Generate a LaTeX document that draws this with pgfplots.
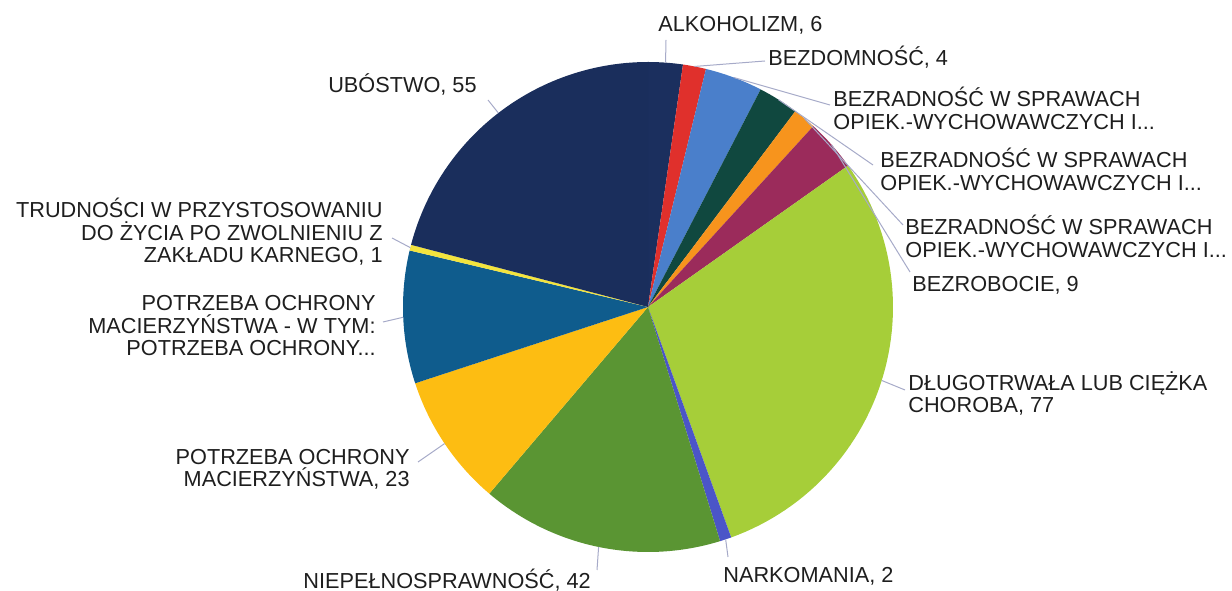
\documentclass[border=0pt]{standalone}
\usepackage{fontspec}
\setmainfont{Liberation Sans}
\usepackage{pgfplots}
\usepackage{pgfplotstable}
\pgfplotsset{compat=1.18}

\definecolor{cNavyA}{HTML}{1B2F5E}
\definecolor{cRed}{HTML}{E0302C}
\definecolor{cBlue}{HTML}{4A7FCB}
\definecolor{cDkGreen}{HTML}{10483F}
\definecolor{cOrange}{HTML}{F7941D}
\definecolor{cMaroon}{HTML}{9B2B5B}
\definecolor{cLime}{HTML}{A6CE39}
\definecolor{cViolet}{HTML}{4B55C8}
\definecolor{cGreen}{HTML}{5A9533}
\definecolor{cGold}{HTML}{FDBD12}
\definecolor{cTeal}{HTML}{0F5C8D}
\definecolor{cYellow}{HTML}{F3E43E}
\definecolor{cNavy}{HTML}{1A2E5C}
\definecolor{cLeader}{HTML}{A6AAC8}
\definecolor{cText}{HTML}{1E1E1E}

% slices clockwise from 12 o'clock
\pgfplotstableread{
value colour
6  cNavyA
4  cRed
10 cBlue
7  cDkGreen
4  cOrange
9  cMaroon
77 cLime
2  cViolet
42 cGreen
23 cGold
23 cTeal
1  cYellow
55 cNavy
}\piedata

\pgfplotstablegetrowsof{\piedata}
\pgfmathtruncatemacro\nlast{\pgfplotsretval-1}

\xdef\pietotal{0}
\foreach \i in {0,...,\nlast}{%
  \pgfplotstablegetelem{\i}{value}\of\piedata
  \pgfmathsetmacro\tmp{\pietotal+\pgfplotsretval}%
  \xdef\pietotal{\tmp}%
}
\xdef\cum{0}
\foreach \i in {0,...,\nlast}{%
  \pgfplotstablegetelem{\i}{value}\of\piedata
  \pgfmathsetmacro\c{\cum+\pgfplotsretval}%
  \pgfmathsetmacro\a{360*(\cum/\pietotal)}%
  \pgfmathsetmacro\b{360*(\c/\pietotal)}%
  \pgfmathsetmacro\m{(\a+\b)/2}%
  \expandafter\xdef\csname pa\i\endcsname{\a}%
  \expandafter\xdef\csname pb\i\endcsname{\b}%
  \expandafter\xdef\csname pm\i\endcsname{\m}%
  \pgfplotstablegetelem{\i}{colour}\of\piedata
  \expandafter\xdef\csname pc\i\endcsname{\pgfplotsretval}%
  \xdef\cum{\c}%
}

% pie centre and radius in pixel units
\def\cx{648}
\def\cy{284}
\def\rr{245}
\newcommand\rimx[1]{\cx+\rr*sin(\csname pm#1\endcsname)}
\newcommand\rimy[1]{\cy+\rr*cos(\csname pm#1\endcsname)}

\begin{document}
\begin{tikzpicture}[
  lbl/.style={font=\fontsize{10.85bp}{11.25bp}\selectfont, text=cText, inner sep=0pt},
  leader/.style={draw=cLeader, line width=0.5bp},
]
\begin{axis}[
  width=616bp, height=295.5bp, scale only axis,
  xmin=0, xmax=1232, ymin=0, ymax=591,
  hide axis, clip=false,
]
\path (rel axis cs:0,0) rectangle (rel axis cs:1,1);

\pgfplotsforeachungrouped \i in {0,...,\nlast}{%
  \edef\slice{\noexpand\addplot[fill=\csname pc\i\endcsname, draw=none,
      domain=\csname pa\i\endcsname:\csname pb\i\endcsname, samples=60]
    ({\cx+\rr*sin(x)},{\cy+\rr*cos(x)}) -- (axis cs:\cx,\cy) -- cycle;}%
  \slice
}

% leader lines
\draw[leader] (axis cs:{\rimx{0}},{\rimy{0}}) -- (axis cs:666,551);
\draw[leader] (axis cs:{\rimx{1}},{\rimy{1}}) -- (axis cs:765,530);
\draw[leader] (axis cs:{\rimx{2}},{\rimy{2}}) -- (axis cs:830,486);
\draw[leader] (axis cs:{\rimx{3}},{\rimy{3}}) -- (axis cs:873,426);
\draw[leader] (axis cs:{\rimx{4}},{\rimy{4}}) -- (axis cs:903,366);
\draw[leader] (axis cs:{\rimx{5}},{\rimy{5}}) -- (axis cs:910,319);
\draw[leader] (axis cs:{\rimx{6}},{\rimy{6}}) -- (axis cs:905,201);
\draw[leader] (axis cs:{\rimx{7}},{\rimy{7}}) -- (axis cs:728,34);
\draw[leader] (axis cs:{\rimx{8}},{\rimy{8}}) -- (axis cs:597,21);
\draw[leader] (axis cs:{\rimx{9}},{\rimy{9}}) -- (axis cs:418,129);
\draw[leader] (axis cs:{\rimx{10}},{\rimy{10}}) -- (axis cs:383,269);
\draw[leader] (axis cs:{\rimx{11}},{\rimy{11}}) -- (axis cs:392,353);
\draw[leader] (axis cs:{\rimx{12}},{\rimy{12}}) -- (axis cs:488,491);

% labels (multi-line nodes: base = last line)
\node[lbl, anchor=base west] at (axis cs:658,559) {ALKOHOLIZM, 6};
\node[lbl, anchor=base west] at (axis cs:768,525) {BEZDOMNOŚĆ, 4};
\node[lbl, anchor=base west, align=left] at (axis cs:833,461.5) {BEZRADNOŚĆ W SPRAWACH\\OPIEK.-WYCHOWAWCZYCH I...};
\node[lbl, anchor=base west, align=left] at (axis cs:880,400.5) {BEZRADNOŚĆ W SPRAWACH\\OPIEK.-WYCHOWAWCZYCH I...};
\node[lbl, anchor=base west, align=left] at (axis cs:905,333.5) {BEZRADNOŚĆ W SPRAWACH\\OPIEK.-WYCHOWAWCZYCH I...};
\node[lbl, anchor=base west] at (axis cs:912,299) {BEZROBOCIE, 9};
\node[lbl, anchor=base west, align=left] at (axis cs:908,178) {DŁUGOTRWAŁA LUB CIĘŻKA\\CHOROBA, 77};
\node[lbl, anchor=base west] at (axis cs:723,9) {NARKOMANIA, 2};
\node[lbl, anchor=base west] at (axis cs:303,3) {NIEPEŁNOSPRAWNOŚĆ, 42};
\node[lbl, anchor=base east, align=right] at (axis cs:410,104) {POTRZEBA OCHRONY\\MACIERZYŃSTWA, 23};
\node[lbl, anchor=base east, align=right] at (axis cs:376,235) {POTRZEBA OCHRONY\\MACIERZYŃSTWA - W TYM:\\POTRZEBA OCHRONY...};
\node[lbl, anchor=base east, align=right] at (axis cs:383,328) {TRUDNOŚCI W PRZYSTOSOWANIU\\DO ŻYCIA PO ZWOLNIENIU Z\\ZAKŁADU KARNEGO, 1};
\node[lbl, anchor=base east] at (axis cs:477,498) {UBÓSTWO, 55};
\end{axis}
\end{tikzpicture}
\end{document}
